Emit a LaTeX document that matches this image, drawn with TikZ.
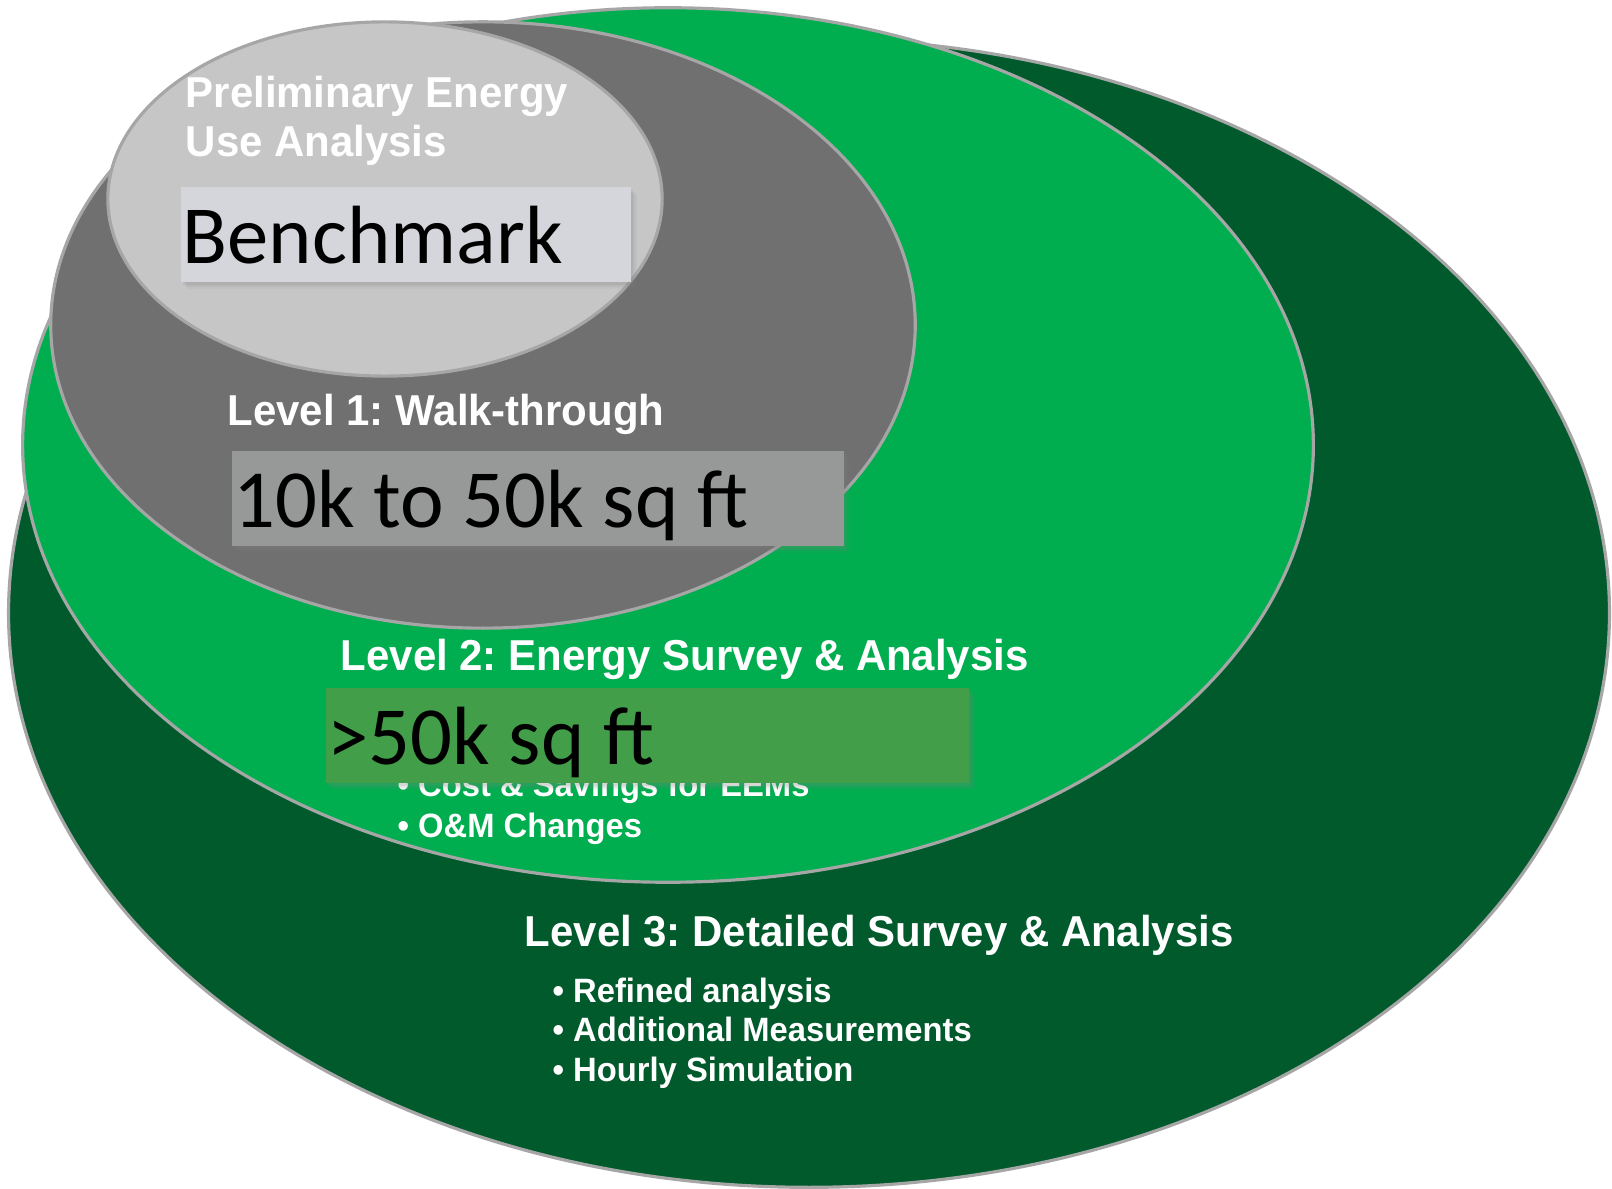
\documentclass[tikz,border=0pt]{standalone}
\usepackage{fontspec}
\setmainfont{Liberation Sans}
\newfontfamily\labelfont[FakeStretch=0.97]{Liberation Sans}
\newfontfamily\boxfont{Carlito}
\usetikzlibrary{shadows}

\definecolor{levelthree}{HTML}{005A2B}
\definecolor{leveltwo}{HTML}{00AE50}
\definecolor{levelone}{HTML}{707070}
\definecolor{prelim}{HTML}{C6C6C6}
\definecolor{rim}{HTML}{A6A6A6}
\definecolor{benchfill}{HTML}{D4D6DB}
\definecolor{smallfill}{HTML}{969998}
\definecolor{largefill}{HTML}{429E48}

\begin{document}
\frenchspacing
\begin{tikzpicture}[x=0.01cm, y=-0.01cm,
    level/.style={draw=rim, line width=0.9pt},
    title/.style={text=white, font=\labelfont\bfseries\fontsize{12.3}{14}\selectfont, anchor=base west, inner sep=0pt},
    item/.style={text=white, font=\labelfont\bfseries\fontsize{9.6}{12}\selectfont, anchor=base west, inner sep=0pt},
    sizebox/.style={anchor=north west, inner xsep=0.02cm, inner ysep=0pt, text height=0.77cm, text depth=0.18cm,
        font=\boxfont\fontsize{23.5}{28}\selectfont,
        drop shadow={shadow xshift=0.6pt, shadow yshift=-0.8pt, opacity=.15},
        drop shadow={shadow xshift=1.2pt, shadow yshift=-1.5pt, opacity=.12},
        drop shadow={shadow xshift=1.8pt, shadow yshift=-2.2pt, opacity=.08}}]
    \useasboundingbox[fill=white] (0,0) rectangle (1612,1189);

    % nested levels, largest first
    \filldraw[level, fill=levelthree] (809,613) ellipse [x radius=8cm, y radius=5.74cm];
    \filldraw[level, fill=leveltwo] (668,445) ellipse [x radius=6.45cm, y radius=4.37cm];
    \filldraw[level, fill=levelone] (483,325) ellipse [x radius=4.32cm, y radius=3.03cm];
    \filldraw[level, fill=prelim] (385,199) ellipse [x radius=2.77cm, y radius=1.77cm];

    \node[title] (prelimA) at (185,108) {Preliminary Energy};
    \node[title] (prelimB) at (185,157) {Use Analysis};
    \node[title] (walk) at (227,426) {Level 1: Walk-through};
    \node[title] (survey) at (340,671) {Level 2: Energy Survey \& Analysis};
    \node[item] (cost) at (397,797) {\textbullet\ Cost \& Savings for EEMs};
    \node[item] (om) at (397,838) {\textbullet\ O\&M Changes};
    \node[title] (detail) at (524,947) {Level 3: Detailed Survey \& Analysis};
    \node[item] (refined) at (552,1002) {\textbullet\ Refined analysis};
    \node[item] (measure) at (552,1041) {\textbullet\ Additional Measurements};
    \node[item] (hourly) at (552,1081) {\textbullet\ Hourly Simulation};

    % building size boxes
    \node[sizebox, fill=benchfill] (bench) at (180,186) {\makebox[4.46cm][l]{Benchmark}};
    \node[sizebox, fill=smallfill] (small) at (231,450) {\makebox[6.08cm][l]{10k to 50k sq ft}};
    \node[sizebox, fill=largefill] (large) at (325,687) {\makebox[6.39cm][l]{>50k sq ft}};
\end{tikzpicture}
\end{document}
